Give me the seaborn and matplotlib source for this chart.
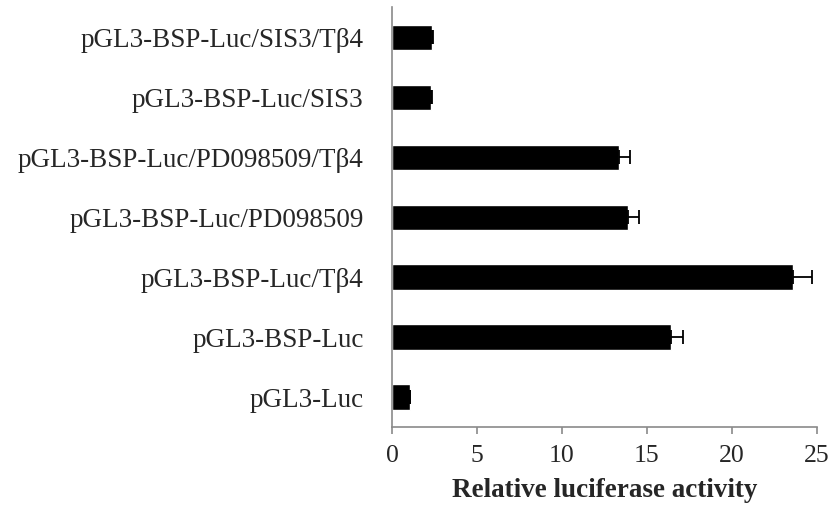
import numpy as np
import pandas as pd
import matplotlib
matplotlib.use("Agg")
import matplotlib.pyplot as plt
import seaborn as sns

# Data (top to bottom)
constructs = ["pGL3-BSP-Luc/SIS3/Tβ4", "pGL3-BSP-Luc/SIS3",
              "pGL3-BSP-Luc/PD098509/Tβ4", "pGL3-BSP-Luc/PD098509",
              "pGL3-BSP-Luc/Tβ4", "pGL3-BSP-Luc", "pGL3-Luc"]
activity = [2.35, 2.3, 13.35, 13.9, 23.6, 16.4, 1.05]
error = [0.08, 0.08, 0.65, 0.65, 1.1, 0.75, 0.0]

df = pd.DataFrame({"construct": constructs, "activity": activity, "err": error})

sns.set_style("white")
plt.rcParams["font.family"] = ["Liberation Serif", "DejaVu Serif"]

fig, ax = plt.subplots(figsize=(8.35, 5.16), dpi=100)
fig.subplots_adjust(left=0.4695, right=0.978, bottom=0.1725, top=0.986)

sns.barplot(data=df, x="activity", y="construct", orient="h", color="black",
            width=0.42, errorbar=None, saturation=1, ax=ax)

# one-sided error bars (positive direction only)
ax.errorbar(df["activity"], np.arange(len(df)),
            xerr=[np.zeros(len(df)), df["err"]],
            fmt="none", ecolor="black", elinewidth=1.3, capsize=5, capthick=1.3)

ax.set_xlim(0, 25)
ax.set_xticks(range(0, 26, 5))
ax.set_ylim(6.5, -0.5)

for s in ["top", "right"]:
    ax.spines[s].set_visible(False)
for s in ["left", "bottom"]:
    ax.spines[s].set_color("#8a8a8a")
    ax.spines[s].set_linewidth(1.2)

ax.tick_params(axis="x", bottom=True, length=5, width=1.2, color="#8a8a8a",
               labelsize=18.5, pad=8)
ax.tick_params(axis="y", left=False, labelsize=19.5, pad=17)

ax.set_ylabel("")
ax.set_xlabel("Relative luciferase activity", fontsize=19.5, fontweight="bold",
              labelpad=8)

fig.savefig("out.png", dpi=100)
